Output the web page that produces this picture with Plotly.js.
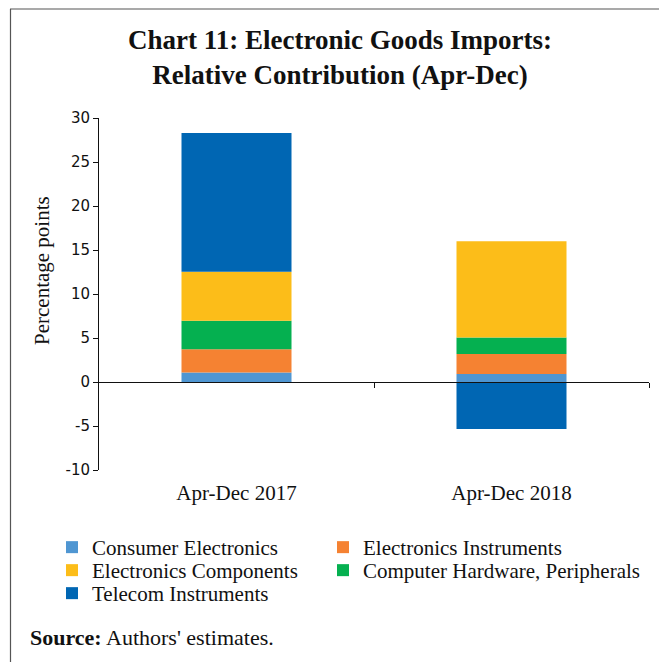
<!DOCTYPE html>
<html>
<head>
<meta charset="utf-8">
<script src="https://cdn.plot.ly/plotly-3.0.1.min.js"></script>
<style>
  html, body { margin: 0; padding: 0; background: #fff; }
  #chart { width: 659px; height: 662px; }
</style>
</head>
<body>
<div id="chart"></div>
<script>
// ---- data (percentage points) ----
const periods = ["Apr-Dec 2017", "Apr-Dec 2018"];
const consumerElectronics    = [1.07, 0.91];
const electronicsInstruments = [2.64, 2.27];
const computerHardware       = [3.26, 1.89];
const electronicsComponents  = [5.56, 10.93];
const telecomInstruments     = [15.77, -5.33];
const yTicks = [-10, -5, 0, 5, 10, 15, 20, 25, 30];

const serif = "Liberation Serif, Times New Roman, serif";
const W = 659, H = 662, ML = 99, MR = 10, MT = 118, MB = 192;
const PW = W - ML - MR, PH = H - MT - MB;
const px = v => (v - ML) / PW;          // pixel x -> paper x
const py = v => (H - MB - v) / PH;      // pixel y -> paper y

function barTrace(name, values, color, legend) {
  return {
    type: "bar", name: name, x: periods, y: values,
    marker: { color: color, line: { width: 0 } },
    width: 0.4, legend: legend, hoverinfo: "name+y"
  };
}

// stacking order: bottom to top
const data = [
  barTrace("Consumer Electronics", consumerElectronics, "#4F96D2", "legend"),
  barTrace("Electronics Instruments", electronicsInstruments, "#F58232", "legend2"),
  barTrace("Computer Hardware, Peripherals", computerHardware, "#05B050", "legend4"),
  barTrace("Electronics Components", electronicsComponents, "#FCBD19", "legend3"),
  barTrace("Telecom Instruments", telecomInstruments, "#0066B3", "legend5"),
  { type: "scatter", x: [], y: [], xaxis: "x2", yaxis: "y", showlegend: false, hoverinfo: "skip" }
];

function legendCell(leftPx, topPx) {
  return {
    orientation: "v", x: px(leftPx), xanchor: "left",
    y: py(topPx), yanchor: "top",
    font: { family: serif, size: 21, color: "#111" },
    itemwidth: 30, bgcolor: "rgba(0,0,0,0)", borderwidth: 0
  };
}

const layout = {
  width: W, height: H,
  margin: { l: ML, r: MR, t: MT, b: MB },
  paper_bgcolor: "#fff", plot_bgcolor: "#fff",
  barmode: "relative",
  showlegend: true,
  title: {
    text: "<b>Chart 11: Electronic Goods Imports:<br>Relative Contribution (Apr-Dec)</b>",
    font: { family: serif, size: 27, color: "#111" },
    xref: "container", x: 340 / W, xanchor: "center",
    yref: "container", y: 1 - 49 / H, yanchor: "middle"
  },
  xaxis: {
    type: "category", range: [-0.5, 1.5],
    showline: false, ticks: "", showgrid: false, zeroline: false,
    tickfont: { family: serif, size: 21, color: "#111" },
    ticklabelstandoff: 8
  },
  xaxis2: {
    overlaying: "x", anchor: "free", position: 0.25,
    type: "linear", range: [0, 2], tickvals: [1, 2],
    showline: true, linecolor: "#111", linewidth: 1,
    ticks: "outside", ticklen: 5, tickcolor: "#111", tickwidth: 1,
    showticklabels: false, showgrid: false, zeroline: false
  },
  yaxis: {
    range: [-10, 30], tickvals: yTicks, ticktext: yTicks.map(String),
    showline: true, linecolor: "#111", linewidth: 1,
    ticks: "outside", ticklen: 5, tickcolor: "#111",
    showgrid: false, zeroline: false,
    tickfont: { family: "DejaVu Sans, Verdana, sans-serif", size: 15, color: "#111" }
  },
  legend:  legendCell(52, 527),
  legend2: legendCell(323, 527),
  legend3: legendCell(52, 550),
  legend4: legendCell(323, 550),
  legend5: legendCell(52, 573),
  shapes: [
    { type: "line", xref: "paper", yref: "paper", x0: px(10), x1: px(W + 5), y0: py(9), y1: py(9),
      line: { color: "#555", width: 1.2 } },
    { type: "line", xref: "paper", yref: "paper", x0: px(10.5), x1: px(10.5), y0: py(9), y1: py(H + 5),
      line: { color: "#555", width: 1.2 } }
  ],
  annotations: [
    {
      text: "Percentage points", textangle: -90,
      xref: "paper", yref: "paper",
      x: px(42), y: py(271),
      xanchor: "center", yanchor: "middle", showarrow: false,
      font: { family: serif, size: 21, color: "#111" }
    },
    {
      text: "<b>Source:</b> Authors' estimates.",
      xref: "paper", yref: "paper",
      x: px(28), y: py(637),
      xanchor: "left", yanchor: "middle", showarrow: false,
      font: { family: serif, size: 22, color: "#111" }
    }
  ]
};

Plotly.newPlot("chart", data, layout, { displayModeBar: false, staticPlot: true });
</script>
</body>
</html>
